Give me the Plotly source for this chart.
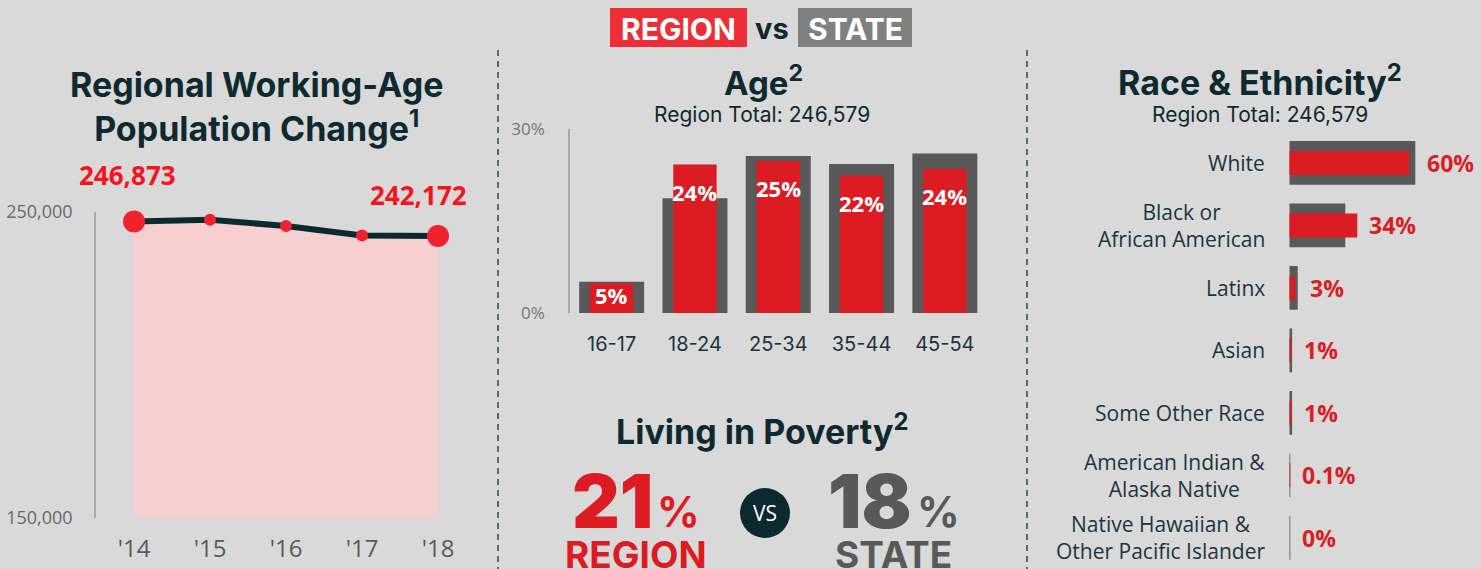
import plotly.graph_objects as go

# ---------------- data ----------------
years = ["'14", "'15", "'16", "'17", "'18"]
pop = [246873, 247500, 245400, 242300, 242172]
pop_ticks = [150000, 250000]
pop_ticktext = ["150,000", "250,000"]

age_groups = ["16-17", "18-24", "25-34", "35-44", "45-54"]
age_region = [4.8, 24.2, 24.8, 22.4, 23.5]
age_state = [5.1, 18.7, 25.6, 24.3, 26.0]
age_labels = ["5%", "24%", "25%", "22%", "24%"]
age_ticks = [0, 30]
age_ticktext = ["0%", "30%"]

races = ["White", "Black or<br>African American", "Latinx", "Asian", "Some Other Race",
         "American Indian &<br>Alaska Native", "Native Hawaiian &<br>Other Pacific Islander"]
race_region = [60, 34, 2.9, 1.0, 1.0, 0.1, 0.0]
race_state = [63, 28, 4.2, 1.4, 1.4, 0.25, 0.2]
race_labels = ["60%", "34%", "3%", "1%", "1%", "0.1%", "0%"]

region_total = "246,579"
poverty_region = "21"
poverty_state = "18"

# ---------------- styles ----------------
W, H = 1481, 569
BG = "#d9d9d9"
DARK = "#0e2a30"
RED = "#dc1c22"
GRAY = "#595959"
TF = "Inter"
BF = "Open Sans"


def px(x):
    return x / W


def py(y):
    return 1 - y / H


fig = go.Figure()

# ---- left: population line ----
fig.add_trace(go.Scatter(
    x=years, y=pop, mode="none", fill="tozeroy", fillcolor="#f8cfd1",
    xaxis="x", yaxis="y", showlegend=False, hoverinfo="skip"))
fig.add_trace(go.Scatter(
    x=years, y=pop, mode="lines+markers",
    line=dict(color="#0b2a30", width=6),
    marker=dict(color="#f0222e", size=[22, 12, 12, 12, 22], opacity=1, line=dict(width=0)),
    cliponaxis=False, xaxis="x", yaxis="y", showlegend=False, hoverinfo="skip"))

# ---- middle: age bars ----
fig.add_trace(go.Bar(x=age_groups, y=age_state, marker_color=GRAY, width=0.78,
                     marker_line_width=0,
                     xaxis="x2", yaxis="y2", showlegend=False, hoverinfo="skip"))
fig.add_trace(go.Bar(x=age_groups, y=age_region, marker_color=RED, width=0.52,
                     marker_line_width=0,
                     xaxis="x2", yaxis="y2", showlegend=False, hoverinfo="skip"))

# ---- right: race bars ----
ridx = list(range(len(races)))
fig.add_trace(go.Bar(y=ridx, x=race_state, orientation="h", marker_color=GRAY, width=0.70,
                     marker_line_width=0,
                     xaxis="x3", yaxis="y3", showlegend=False, hoverinfo="skip"))
fig.add_trace(go.Bar(y=ridx, x=race_region, orientation="h", marker_color=RED, width=0.384,
                     marker_line_width=0,
                     xaxis="x3", yaxis="y3", showlegend=False, hoverinfo="skip"))

ann = []


def add_text(x, y, text, font, xanchor="center", yanchor="middle", **kw):
    ann.append(dict(x=px(x), y=py(y), xref="paper", yref="paper", showarrow=False,
                    text=text, font=font, xanchor=xanchor, yanchor=yanchor, **kw))


# population labels
ann.append(dict(x=years[0], y=pop[0], xref="x", yref="y", text=f"{pop[0]:,}",
                showarrow=False, yshift=47, xshift=-7, xanchor="center", yanchor="middle",
                font=dict(family=BF, size=26, color="#f5141c", weight="bold")))
ann.append(dict(x=years[-1], y=pop[-1], xref="x", yref="y", text=f"{pop[-1]:,}",
                showarrow=False, yshift=41, xshift=-20, xanchor="center", yanchor="middle",
                font=dict(family=BF, size=26, color="#f5141c", weight="bold")))

# age labels
for g, v, t in zip(age_groups, age_region, age_labels):
    if v < 10:
        ann.append(dict(x=g, y=v / 2, xref="x2", yref="y2", text=t, showarrow=False,
                        yshift=3, xanchor="center", yanchor="middle",
                        font=dict(family=BF, size=22, color="white", weight="bold")))
    else:
        ann.append(dict(x=g, y=v, xref="x2", yref="y2", text=t, showarrow=False,
                        xanchor="center", yanchor="top", yshift=-10,
                        font=dict(family=BF, size=22, color="white", weight="bold")))

# race labels
for i, (r, s, t, name) in enumerate(zip(race_region, race_state, race_labels, races)):
    ann.append(dict(x=max(r, s), y=i, xref="x3", yref="y3", text=t, showarrow=False,
                    xanchor="left", yanchor="middle", xshift=10,
                    font=dict(family=BF, size=23, color="#d81f26", weight="bold")))
    ann.append(dict(x=0, y=i, xref="x3", yref="y3", text=name, showarrow=False,
                    xanchor="right", yanchor="middle", xshift=-22, align="center",
                    font=dict(family=BF, size=21, color="#1c3540")))

# titles
add_text(256, 106, "Regional Working-Age<br>Population Change<sup>1</sup>",
         dict(family=TF, size=34, color=DARK, weight="bold"))
add_text(763, 81, "Age<sup>2</sup>", dict(family=TF, size=33, color=DARK, weight="bold"))
add_text(762, 114, f"Region Total: {region_total}", dict(family=TF, size=21, color=DARK))
add_text(1260, 81, "Race & Ethnicity<sup>2</sup>", dict(family=TF, size=34, color=DARK, weight="bold"))
add_text(1260, 114, f"Region Total: {region_total}", dict(family=TF, size=21, color=DARK))
add_text(762, 429, "Living in Poverty<sup>2</sup>", dict(family=TF, size=34, color=DARK, weight="bold"))

# header
add_text(678.5, 29, "REGION", dict(family=TF, size=30, color="white", weight="bold"))
add_text(772, 29, "vs", dict(family=TF, size=29, color=DARK, weight="bold"))
add_text(855, 29, "STATE", dict(family=TF, size=30, color="white", weight="bold"))

# poverty numbers
add_text(612, 501, poverty_region, dict(family=TF, size=74, color=RED, weight=900))
add_text(678, 511, "%", dict(family=TF, size=42, color=RED, weight="bold"))
add_text(636, 554, "REGION", dict(family=TF, size=37, color=RED, weight="bold"))
add_text(870, 501, poverty_state, dict(family=TF, size=74, color=GRAY, weight=900))
add_text(938, 511, "%", dict(family=TF, size=42, color=GRAY, weight="bold"))
add_text(893, 554, "STATE", dict(family=TF, size=37, color=GRAY, weight="bold"))
add_text(765, 513, "VS", dict(family=BF, size=21, color="white"))

shapes = [
    dict(type="rect", xref="paper", yref="paper", x0=px(610), x1=px(747), y0=py(47), y1=py(8),
         fillcolor="#ee2e36", line_width=0, layer="below"),
    dict(type="rect", xref="paper", yref="paper", x0=px(798), x1=px(912), y0=py(47), y1=py(8),
         fillcolor="#808080", line_width=0, layer="below"),
    dict(type="line", xref="paper", yref="paper", x0=px(498), x1=px(498), y0=py(50), y1=0,
         line=dict(color="#5a6a70", width=2, dash="6px,5px")),
    dict(type="line", xref="paper", yref="paper", x0=px(1027), x1=px(1027), y0=py(50), y1=0,
         line=dict(color="#5a6a70", width=2, dash="6px,5px")),
    dict(type="circle", xref="paper", yref="paper", x0=px(740), x1=px(790), y0=py(538), y1=py(488),
         fillcolor="#0b2a30", line_width=0, layer="below"),
]

fig.update_layout(
    width=W, height=H, margin=dict(l=0, r=0, t=0, b=0, autoexpand=False),
    paper_bgcolor=BG, plot_bgcolor="rgba(0,0,0,0)", barmode="overlay",
    annotations=ann, shapes=shapes,
    xaxis=dict(domain=[px(96), px(476)], range=[-0.5, 4.5], anchor="y", showgrid=False,
               zeroline=False, showline=False, ticks="", ticklabelstandoff=14,
               tickfont=dict(family=BF, size=24, color="#5a5a5a")),
    yaxis=dict(domain=[py(518), py(212)], range=[150000, 250000], anchor="x",
               tickvals=pop_ticks, ticktext=pop_ticktext,
               showgrid=False, zeroline=False, showline=True, linecolor="#aaaaaa",
               linewidth=1.5, ticks="", ticklabelstandoff=18,
               tickfont=dict(family=BF, size=18, color="#6a6a6a")),
    xaxis2=dict(domain=[px(570), px(986.5)], range=[-0.5, 4.5], anchor="y2", showgrid=False,
                zeroline=False, showline=False, ticks="", ticklabelstandoff=17,
                tickfont=dict(family=TF, size=20, color="#1c3540")),
    yaxis2=dict(domain=[py(313), py(129)], range=[0, 30], anchor="x2",
                tickvals=age_ticks, ticktext=age_ticktext,
                showgrid=False, zeroline=False, showline=True,
                linecolor="#aaaaaa", linewidth=1.5, ticks="", ticklabelstandoff=20,
                tickfont=dict(family=BF, size=17, color="#777777")),
    xaxis3=dict(domain=[px(1289.3), 1.0], range=[0, (W - 1289.3) / 2], anchor="y3", visible=False),
    yaxis3=dict(domain=[0, py(131.75)], range=[6.5, -0.5], anchor="x3", visible=False),
)

fig.write_html("out.html", config={"displayModeBar": False},
               post_script="document.body.style.margin='0';")
